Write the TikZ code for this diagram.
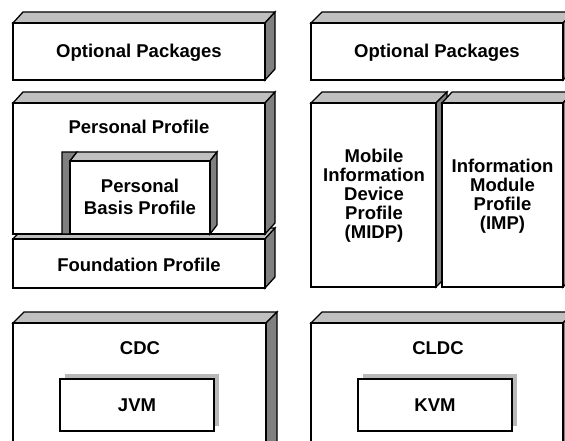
\documentclass[tikz,border=0pt]{standalone}
\usepackage{fontspec}
\setmainfont{Liberation Sans}
\definecolor{topc}{HTML}{C0C0C0}
\definecolor{sidec}{HTML}{808080}
\definecolor{shadc}{HTML}{B8B8B8}
\newcommand\slab[7]{%
  \filldraw[fill=topc] (#2,#3) -- ({#2+#6},{#3-#7}) -- ({#4+#6},{#3-#7}) -- (#4,#3) -- cycle;
  \filldraw[fill=sidec] (#4,#3) -- ({#4+#6},{#3-#7}) -- ({#4+#6},{#5-#7}) -- (#4,#5) -- cycle;
  \filldraw[fill=white] (#2,#3) rectangle (#4,#5);
  \coordinate (#1) at ({(#2+#4)/2},{(#3+#5)/2});
}
\newcommand\vmbox[5]{%
  \fill[shadc] ({#2+5},{#3-5}) rectangle ({#4+5},{#5-5});
  \filldraw[fill=white] (#2,#3) rectangle (#4,#5);
  \coordinate (#1) at ({(#2+#4)/2},{(#3+#5)/2});
}
\begin{document}
\begin{tikzpicture}[x=1pt,y=-1pt,line width=1.3pt,line join=miter,
  lbl/.style={font=\bfseries\fontsize{18.5}{19}\selectfont,inner sep=0pt,anchor=base,align=center}]
\useasboundingbox (0,0) rectangle (565,441);
\clip (0,0) rectangle (565,441);
% left column
\slab{opl}{13}{23}{265}{80}{10}{11}
\slab{fnd}{13}{239}{265}{288}{10}{11}
\slab{pp}{13}{103}{265}{234}{10}{11}
\filldraw[fill=sidec] (62,152) -- (77,152) -- (70,161) -- (70,234) -- (62,234) -- cycle;
\slab{pbp}{70}{161}{210}{234}{7}{9}
\slab{cdc}{13}{323}{266}{470}{11}{11}
\vmbox{jvm}{60}{379}{214}{431}
% right column
\slab{opr}{311}{23}{563}{80}{11}{11}
\slab{midp}{311}{103}{436}{287}{11}{11}
\slab{imp}{442}{103}{563}{287}{10}{11}
\slab{cldc}{311}{323}{563}{470}{11}{11}
\vmbox{kvm}{358}{379}{512}{431}
% labels
\node[lbl] (topl) at (139,57.5) {Optional Packages};
\node[lbl] (topr) at (437,57.5) {Optional Packages};
\node[lbl] (tpp) at (139,133.5) {Personal Profile};
\node[lbl,font=\bfseries\fontsize{18.5}{21.7}\selectfont] (tpbp) at (140,214.3) {Personal\\Basis Profile};
\node[lbl] (tfnd) at (139,271.7) {Foundation Profile};
\node[lbl,font=\bfseries\fontsize{18.5}{18.9}\selectfont] (tmidp) at (374,238.2) {Mobile\\Information\\Device\\Profile\\(MIDP)};
\node[lbl,font=\bfseries\fontsize{18.5}{19.1}\selectfont] (timp) at (502.5,229.9) {Information\\Module\\Profile\\(IMP)};
\node[lbl] (tcdc) at (140,354) {CDC};
\node[lbl] (tjvm) at (137,411) {JVM};
\node[lbl] (tcldc) at (438,354) {CLDC};
\node[lbl] (tkvm) at (435,411) {KVM};
\end{tikzpicture}
\end{document}
